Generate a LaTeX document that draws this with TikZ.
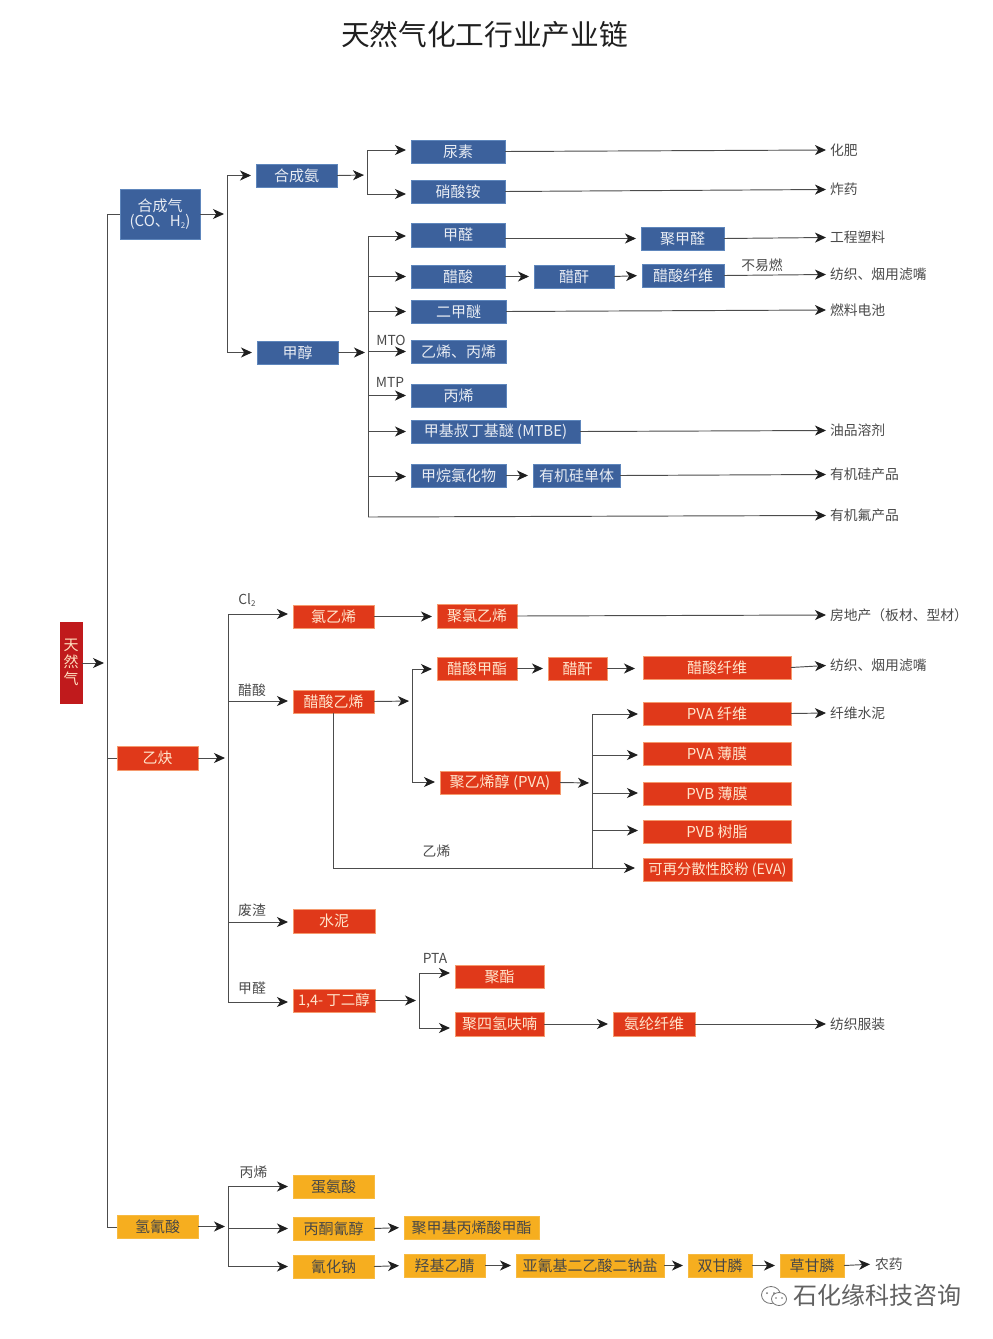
\documentclass[tikz,border=0pt]{standalone}
\usepackage{fontspec}
\setmainfont{Noto Sans CJK SC}
\usetikzlibrary{arrows.meta,calc}
\definecolor{cblue}{HTML}{3C619C}
\definecolor{cblueE}{HTML}{5E86BC}
\definecolor{cred}{HTML}{E0391A}
\definecolor{credE}{HTML}{F59A6E}
\definecolor{cdark}{HTML}{C01A1C}
\definecolor{cyel}{HTML}{F6AE1F}
\definecolor{cline}{HTML}{4C4C4C}
\definecolor{ctxt}{HTML}{4A4A4A}
\tikzset{
  boxbase/.style={inner sep=0pt,outer sep=0pt,align=center,font=\fontsize{15}{16}\selectfont,line width=.7pt},
  bluebox/.style={boxbase,fill=cblue,draw=cblueE,text=white!88!cblue},
  redbox/.style={boxbase,fill=cred,draw=credE,text=white!80!orange},
  darkbox/.style={boxbase,fill=cdark,draw=cdark,text=white!75!orange},
  yelbox/.style={boxbase,fill=cyel,draw=cyel!85!white,text=black!72},
  ln/.style={draw=cline,line width=.95pt},
  arr/.style={ln,-{Stealth[length=11pt,width=10pt,inset=3.2pt,color=black!88]},shorten >=5pt},
  arrj/.style={arr,shorten >=3pt},
  arrl/.style={arr,shorten >=0pt},
  endlab/.style={anchor=west,inner xsep=4pt,inner ysep=0pt,outer sep=0pt,text=ctxt,font=\fontsize{13.8}{15}\selectfont},
  freelab/.style={inner sep=0pt,outer sep=0pt,text=ctxt,font=\fontsize{13.8}{15}\selectfont},
  wm/.style={draw=black!55,line width=.8pt,fill=white}
}
\newcommand\bx[7]{\node[#1,minimum width={(#5-#3)*1pt},minimum height={(#6-#4)*1pt}] (#2) at ({(#3+#5)/2},{(#4+#6)/2}) {#7};}
\newcommand\el[3]{\node[endlab] (#1) at (826,#2) {#3};}
\newcommand\br[3]{\path ([yshift=#3pt]#2.west) coordinate (tmpb); \draw[arr] (#1 |- tmpb) -- (tmpb);}
\begin{document}
\begin{tikzpicture}[x=1pt,y=-1pt]
\useasboundingbox (0,0) rectangle (993,1339);
\node[inner sep=0pt,text=black!88,font=\fontsize{28.7}{32}\selectfont] (title) at (484.5,35) {天然气化工行业产业链};

% boxes: blue
\bx{bluebox}{syn}{120}{189}{200}{239}{合成气\\[-1pt](CO、H\raisebox{-2pt}{\fontsize{8}{8}\selectfont 2})}
\bx{bluebox}{nh3}{256}{164}{337}{187}{合成氨}
\bx{bluebox}{meoh}{257}{341}{338}{364}{甲醇}
\bx{bluebox}{urea}{411}{140}{505}{163}{尿素}
\bx{bluebox}{an}{411}{180}{505}{203}{硝酸铵}
\bx{bluebox}{hcho}{411}{223}{505}{247}{甲醛}
\bx{bluebox}{hac}{411}{265}{505}{288}{醋酸}
\bx{bluebox}{dme}{411}{300}{506}{323}{二甲醚}
\bx{bluebox}{olef}{411}{340}{506}{363}{乙烯、丙烯}
\bx{bluebox}{prop}{411}{384}{506}{407}{丙烯}
\bx{bluebox}{mtbe}{411}{420}{580}{443}{甲基叔丁基醚 (MTBE)}
\bx{bluebox}{mcl}{411}{464}{506}{487}{甲烷氯化物}
\bx{bluebox}{pom}{641}{227}{724}{250}{聚甲醛}
\bx{bluebox}{aca}{534}{265}{614}{288}{醋酐}
\bx{bluebox}{cea}{642}{264}{724}{287}{醋酸纤维}
\bx{bluebox}{sil}{533}{464}{620}{487}{有机硅单体}
% boxes: red
\bx{darkbox}{gas}{60}{622}{82}{703}{天\\[1pt]然\\[1pt]气}
\bx{redbox}{acet}{117}{746}{198}{770}{乙炔}
\bx{redbox}{vc}{293}{605}{374}{628}{氯乙烯}
\bx{redbox}{pvc}{437}{604}{517}{628}{聚氯乙烯}
\bx{redbox}{vac}{293}{690}{374}{713}{醋酸乙烯}
\bx{redbox}{mac}{437}{657}{517}{680}{醋酸甲酯}
\bx{redbox}{aca2}{548}{657}{607}{680}{醋酐}
\bx{redbox}{ceb}{643}{656}{791}{679}{醋酸纤维}
\bx{redbox}{pva}{440}{771}{560}{794}{聚乙烯醇 (PVA)}
\bx{redbox}{pvaf}{643}{702}{791}{725}{PVA 纤维}
\bx{redbox}{pvam}{643}{742}{791}{765}{PVA 薄膜}
\bx{redbox}{pvbm}{643}{782}{791}{805}{PVB 薄膜}
\bx{redbox}{pvbr}{643}{820}{791}{843}{PVB 树脂}
\bx{redbox,font=\fontsize{14.3}{16}\selectfont}{eva}{643}{858}{792}{881}{可再分散性胶粉 (EVA)}
\bx{redbox}{cem}{293}{909}{375}{933}{水泥}
\bx{redbox,font=\fontsize{14.5}{16}\selectfont}{bdo}{293}{989}{375}{1012}{1,4- 丁二醇}
\bx{redbox}{pest}{455}{965}{544}{988}{聚酯}
\bx{redbox}{pthf}{455}{1012}{544}{1036}{聚四氢呋喃}
\bx{redbox}{span}{613}{1012}{695}{1036}{氨纶纤维}
% boxes: yellow
\bx{yelbox}{hcn}{117}{1215}{198}{1238}{氢氰酸}
\bx{yelbox}{met}{293}{1175}{374}{1198}{蛋氨酸}
\bx{yelbox}{ach}{293}{1217}{374}{1240}{丙酮氰醇}
\bx{yelbox}{pmma}{404}{1216}{539}{1239}{聚甲基丙烯酸甲酯}
\bx{yelbox}{nacn}{293}{1255}{374}{1278}{氰化钠}
\bx{yelbox}{han}{404}{1254}{485}{1277}{羟基乙腈}
\bx{yelbox}{ida}{516}{1254}{664}{1277}{亚氰基二乙酸二钠盐}
\bx{yelbox}{gly}{688}{1254}{752}{1277}{双甘膦}
\bx{yelbox}{gph}{780}{1254}{844}{1277}{草甘膦}

% end labels
\el{lfert}{150}{化肥}
\el{lexp}{189.5}{炸药}
\el{lep}{237.5}{工程塑料}
\el{ltex}{274.5}{纺织、烟用滤嘴}
\el{lfc}{310}{燃料电池}
\el{loil}{430.5}{油品溶剂}
\el{lsi}{474.5}{有机硅产品}
\el{lf}{515.5}{有机氟产品}
\el{lhouse}{615}{房地产（板材、型材）}
\el{ltex2}{665.5}{纺织、烟用滤嘴}
\el{lfib}{713}{纤维水泥}
\el{lcloth}{1024}{纺织服装}
\node[endlab,inner xsep=0pt] (lpest) at (875,1264) {农药};

% free labels
\node[freelab] (tnr) at (762,265) {不易燃};
\node[freelab] (tmto) at (391,340) {MTO};
\node[freelab] (tmtp) at (390,382) {MTP};
\node[freelab] (tcl) at (247,600) {Cl\raisebox{-2pt}{\fontsize{8}{8}\selectfont 2}};
\node[freelab] (tac) at (252,690) {醋酸};
\node[freelab] (twz) at (252,910) {废渣};
\node[freelab] (tfa) at (252,988) {甲醛};
\node[freelab] (tpta) at (435,958) {PTA};
\node[freelab] (teth) at (436.5,851) {乙烯};
\node[freelab] (tpp) at (253.5,1172) {丙烯};

% trunk coordinates
\coordinate (M0) at (107,214);
\coordinate (M1) at (107,1227);
\coordinate (Mg) at (107,663);
\coordinate (A) at (227,214);
\coordinate (A0) at (227,175);
\coordinate (A1) at (227,352);
\coordinate (B) at (367,175);
\coordinate (B0) at (367,150);
\coordinate (B1) at (367,194);
\coordinate (C) at (368,354);
\coordinate (C0) at (368,236);
\coordinate (C1) at (368,517);
\coordinate (D) at (228,758);
\coordinate (D0) at (228,614);
\coordinate (D1) at (228,1002);
\coordinate (E) at (412,701);
\coordinate (E0) at (412,669);
\coordinate (E1) at (412,782);
\coordinate (F) at (592,783);
\coordinate (F0) at (592,714);
\coordinate (F1) at (592,868);
\coordinate (G) at (419,1000);
\coordinate (G0) at (419,973);
\coordinate (G1) at (419,1028);
\coordinate (H) at (228,1227);
\coordinate (H0) at (228,1187);
\coordinate (H1) at (228,1266);

% main trunk
\draw[ln] (syn.west |- M0) -- (M0) -- (M1) -- (hcn.west |- M1);
\draw[ln] (M0 |- acet.west) -- (acet.west);
\draw[arrj] (gas.east |- Mg) -- (Mg);

% syngas
\draw[arrj] (syn.east |- A) -- (A);
\draw[ln] (A0) -- (A1);
\br{A}{nh3}{0}
\br{A}{meoh}{0}
\draw[arrj] (nh3.east) -- (B);
\draw[ln] (B0) -- (B1);
\br{B}{urea}{1.5}
\br{B}{an}{-2.5}
\draw[arrl] (urea.east) -- (lfert.west);
\draw[arrl] (an.east) -- (lexp.west);
\draw[arrj] (meoh.east) -- (C |- meoh.east);
\draw[ln] (C0) -- (C1);
\draw[arrl] (C1) -- (lf.west);
\br{C}{hcho}{-1}
\br{C}{hac}{0}
\br{C}{dme}{0}
\br{C}{olef}{0}
\br{C}{prop}{0}
\br{C}{mtbe}{0}
\br{C}{mcl}{-1}
\draw[arr] (hcho.east |- pom.west) -- (pom.west);
\draw[arr] (hac.east) -- (aca.west);
\draw[arr] (aca.east) -- (cea.west);
\draw[arrl] (pom.east) -- (lep.west);
\draw[arrl] (cea.east) -- (ltex.west);
\draw[arrl] (dme.east) -- (lfc.west);
\draw[arrl] (mtbe.east) -- (loil.west);
\draw[arr] (mcl.east) -- (sil.west);
\draw[arrl] (sil.east) -- (lsi.west);

% acetylene
\draw[arrj] (acet.east) -- (D);
\draw[ln] (D0) -- (D1);
\br{D}{vc}{2.5}
\br{D}{vac}{0.5}
\br{D}{cem}{-1}
\br{D}{bdo}{-1.5}
\draw[arr] (vc.east) -- (vc.east -| pvc.west);
\draw[arrl] (pvc.east) -- (lhouse.west);
\draw[arrj] (vac.east) -- (E);
\draw[ln] (E0) -- (E1);
\br{E}{mac}{-0.5}
\br{E}{pva}{0.5}
\draw[arr] (mac.east) -- (aca2.west);
\draw[arr,shorten >=8pt] (aca2.east) -- (aca2.east -| ceb.west);
\draw[arrl] (ceb.east) -- (ltex2.west);
\draw[arrj] (pva.east) -- (F);
\draw[ln] (F0) -- (F1);
\br{F}{pvaf}{-0.5}
\br{F}{pvam}{-1.5}
\br{F}{pvbm}{0.5}
\br{F}{pvbr}{1}
\draw[ln] (vac.south) |- (F1);
\draw[arr,shorten >=8pt] (F1) -- (F1 -| eva.west);
\draw[arrl] (pvaf.east) -- (lfib.west);
\draw[arrj] (bdo.east) -- (G |- bdo.east);
\draw[ln] (G0) -- (G1);
\br{G}{pest}{3.5}
\br{G}{pthf}{-4}
\draw[arr] (pthf.east) -- (span.west);
\draw[arrl] (span.east) -- (lcloth.west);

% hcn
\draw[arrj] (hcn.east) -- (H |- hcn.east);
\draw[ln] (H0) -- (H1);
\br{H}{met}{0}
\br{H}{ach}{0}
\br{H}{nacn}{0}
\draw[arr] (ach.east) -- (pmma.west);
\draw[arr] (nacn.east) -- (han.west);
\draw[arr] (han.east) -- (ida.west);
\draw[arr] (ida.east) -- (gly.west);
\draw[arr] (gly.east) -- (gph.west);
\draw[arr] (gph.east) -- (lpest.west);

% watermark
\draw[wm] (771,1295) ellipse [x radius=9.5,y radius=8.5];
\draw[wm] (779,1299) ellipse [x radius=7.5,y radius=6.5];
\fill[black!55] (767,1293) circle (1) (774,1293) circle (1) (776,1298) circle (.8) (782,1298) circle (.8);
\node[inner sep=0pt,text=black!62,font=\fontsize{24}{26}\selectfont] (wmt) at (877,1295) {石化缘科技咨询};
\end{tikzpicture}
\end{document}
